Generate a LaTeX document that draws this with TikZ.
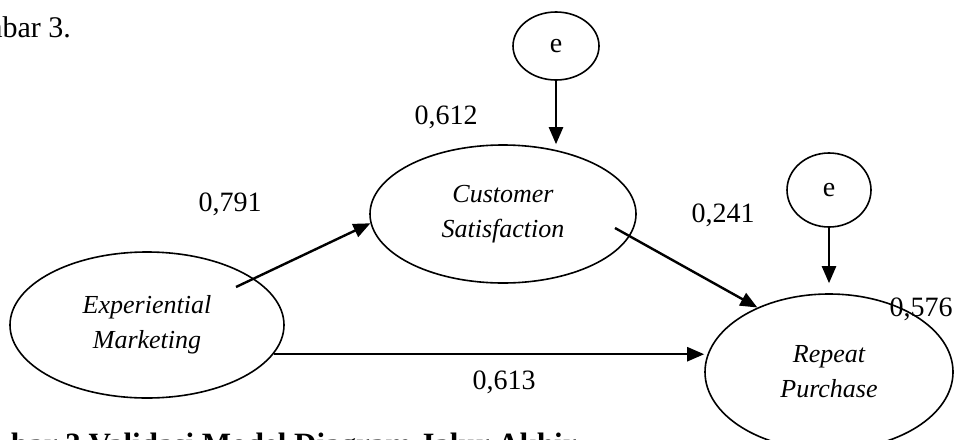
\documentclass[tikz,border=0pt]{standalone}
\usepackage{fontspec}
\setmainfont{Liberation Serif}
\usetikzlibrary{shapes.geometric,arrows.meta}

\begin{document}
\begin{tikzpicture}[x=0.5pt,y=-0.5pt,
    latent/.style={draw,ellipse,line width=0.8pt,inner sep=0pt,align=center,
        font=\fontsize{13}{17.5}\selectfont\itshape},
    err/.style={draw,ellipse,line width=0.8pt,inner sep=0pt,font=\fontsize{14}{16}\selectfont},
    link/.style={line width=1.2pt,-{Triangle[length=8.5pt,width=7pt]}},
    coef/.style={font=\fontsize{14}{16}\selectfont}]
    \useasboundingbox (0,0) rectangle (956,439);
    \clip (0,0) rectangle (956,439);
    \node[anchor=base east,font=\fontsize{15}{17}\selectfont] (head) at (78,37) {mbar 3.};
    \node[latent,minimum width=137pt,minimum height=73pt] (em) at (147,325) {Experiential\\Marketing};
    \node[latent,minimum width=133pt,minimum height=69pt] (cs) at (503,214) {Customer\\Satisfaction};
    \node[latent,minimum width=124pt,minimum height=78pt] (rp) at (829,372) {Repeat\\Purchase};
    \node[err,minimum width=43pt,minimum height=34pt] (e1) at (556,46) {e};
    \node[err,minimum width=42pt,minimum height=37pt] (e2) at (829,190) {e};
    \coordinate (em-a) at (236,287);
    \coordinate (cs-a) at (615,228);
    \draw[link] (em-a) -- (cs.184);
    \draw[link] (em.-13.5) -- (em.-13.5 -| rp.west);
    \draw[link] (cs-a) -- (rp.138);
    \draw[link] (e1) -- (e1 |- cs.north);
    \draw[link,shorten >=5pt] (e2) -- (rp);
    \node[coef] (c1) at (230,204) {0,791};
    \node[coef] (c2) at (446,117) {0,612};
    \node[coef] (c3) at (723,215) {0,241};
    \node[coef] (c4) at (504,382) {0,613};
    \node[coef] (c5) at (921,309) {0,576};
    \node[anchor=base west,font=\fontsize{15.5}{18}\selectfont\bfseries] (cap) at (4,454)
        {bar 3 Validasi Model Diagram Jalur Akhir};
\end{tikzpicture}
\end{document}
